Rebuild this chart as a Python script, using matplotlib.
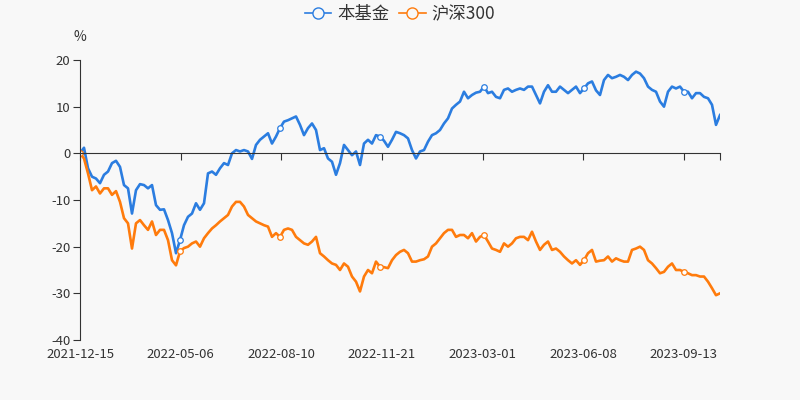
import matplotlib
matplotlib.use("Agg")
import matplotlib.pyplot as plt
from matplotlib.lines import Line2D
import numpy as np

plt.rcParams['font.family'] = ['Noto Sans CJK SC', 'DejaVu Sans']
plt.rcParams['axes.unicode_minus'] = False

# cumulative return (%), one sample every ~2.7 trading days
fund = [0, 1.2, -3.2, -5.0, -5.4, -6.4, -4.6, -3.9, -2.1, -1.6,
        -2.9, -6.8, -7.5, -12.9, -7.9, -6.6, -6.8, -7.5, -6.8, -11.1,
        -12.1, -12.0, -14.3, -17.1, -21.4, -18.6, -15.4, -13.6, -12.9, -10.7,
        -12.1, -10.7, -4.3, -3.9, -4.6, -3.2, -2.1, -2.5, 0, 0.7,
        0.4, 0.7, 0.4, -1.2, 1.8, 2.9, 3.6, 4.3, 2.1, 3.6,
        5.4, 6.8, 7.1, 7.5, 7.9, 6.1, 3.9, 5.4, 6.4, 5.0,
        0.7, 1.1, -1.1, -1.8, -4.6, -2.1, 1.8, 0.7, -0.4, 0.4,
        -2.5, 2.1, 2.9, 2.1, 3.9, 3.6, 2.7, 1.4, 2.9, 4.6,
        4.3, 3.9, 3.2, 0.7, -1.1, 0.4, 0.7, 2.5, 3.9, 4.3,
        5.0, 6.4, 7.5, 9.6, 10.4, 11.1, 13.2, 11.8, 12.5, 13.0,
        13.2, 14.3, 12.9, 13.2, 12.1, 11.8, 13.6, 13.9, 13.2, 13.6,
        13.9, 13.6, 14.3, 14.3, 12.5, 10.7, 13.2, 14.6, 13.2, 13.2,
        14.3, 13.6, 12.9, 13.6, 14.3, 12.9, 13.9, 15.0, 15.4, 13.5,
        12.5, 15.7, 16.8, 16.1, 16.4, 16.8, 16.4, 15.7, 16.8, 17.5,
        17.1, 16.1, 14.3, 13.6, 13.2, 11.1, 10.0, 13.2, 14.3, 13.9,
        14.3, 13.2, 13.2, 11.8, 12.9, 12.9, 12.1, 11.8, 10.4, 6.1,
        8.2]
hs300 = [0, -1.1, -4.3, -7.9, -7.1, -8.6, -7.5, -7.5, -8.9, -8.1,
         -10.4, -13.9, -15.0, -20.4, -15.0, -14.3, -15.4, -16.4, -14.6, -17.5,
         -16.4, -16.4, -18.6, -22.9, -24.0, -21.0, -20.3, -20.0, -19.3, -18.9,
         -20.0, -18.2, -17.1, -16.1, -15.4, -14.6, -13.9, -13.2, -11.4, -10.4,
         -10.4, -11.4, -13.2, -13.9, -14.6, -15.0, -15.4, -15.7, -17.9, -17.1,
         -17.9, -16.4, -16.1, -16.4, -17.9, -18.6, -19.3, -19.6, -18.9, -17.9,
         -21.4, -22.1, -22.9, -23.6, -23.9, -25.0, -23.6, -24.3, -26.4, -27.5,
         -29.6, -26.4, -25.0, -25.7, -23.2, -24.3, -24.4, -24.6, -22.9, -21.8,
         -21.1, -20.7, -21.4, -23.2, -23.2, -22.9, -22.7, -22.1, -20.0, -19.3,
         -18.2, -17.1, -16.4, -16.4, -17.9, -17.5, -17.5, -18.2, -17.1, -18.9,
         -17.9, -17.5, -18.9, -20.4, -20.7, -21.1, -19.3, -20.0, -19.3, -18.2,
         -17.9, -17.9, -18.6, -16.8, -18.9, -20.7, -19.6, -18.9, -20.7, -20.4,
         -21.1, -22.1, -22.9, -23.6, -22.9, -23.9, -22.9, -21.4, -20.7, -23.2,
         -23.0, -22.9, -22.1, -23.2, -22.5, -22.9, -23.2, -23.2, -20.7, -20.4,
         -20.0, -20.7, -22.9, -23.6, -24.6, -25.7, -25.4, -24.3, -23.6, -25.0,
         -25.0, -25.4, -25.7, -26.1, -26.1, -26.4, -26.4, -27.5, -28.9, -30.4,
         -30.0]

n_days = 427
tick_days = [0, 67, 134, 201, 268, 335, 402]
tick_labels = ['2021-12-15', '2022-05-06', '2022-08-10', '2022-11-21',
               '2023-03-01', '2023-06-08', '2023-09-13']
names = ['本基金', '沪深300']
colors = ['#2b7de0', '#ff7b0c']

x = np.linspace(0, n_days - 1, len(fund))
mark_idx = [int(round(d * (len(fund) - 1) / (n_days - 1))) for d in tick_days]

bg = '#f8f8f8'
fig = plt.figure(figsize=(8, 4), dpi=100, facecolor=bg)
ax = fig.add_axes([0.1, 0.15, 0.8, 0.7], facecolor=bg)

for vals, c in zip([fund, hs300], colors):
    ax.plot(x, vals, color=c, lw=1.9, solid_joinstyle='round',
            marker='o', markevery=mark_idx, ms=4, mfc='white', mec=c, mew=0.9)

ax.set_xlim(0, n_days - 1)
ax.set_ylim(-40, 20)
ax.set_yticks(np.arange(-40, 21, 10))

for s in ['top', 'right']:
    ax.spines[s].set_visible(False)
ax.spines['left'].set_color('#333333')
ax.spines['bottom'].set_position(('data', 0))
ax.spines['bottom'].set_color('#333333')
ax.set_xticks(tick_days + [n_days - 1])
ax.tick_params(axis='x', length=5, color='#333333', labelbottom=False)
ax.tick_params(axis='y', length=5, color='#333333', labelsize=9.5,
               labelcolor='#333333', pad=2)
for lab in ax.get_yticklabels():
    lab.set_verticalalignment('center_baseline')

sec = ax.secondary_xaxis(0.0)
sec.set_xticks(tick_days)
sec.set_xticklabels(tick_labels)
sec.spines['bottom'].set_visible(False)
sec.tick_params(length=0, labelsize=9.5, labelcolor='#333333', pad=6)

ax.text(0, 1.082, '%', transform=ax.transAxes, ha='center', va='center',
        fontsize=10, color='#333333')

handles = [Line2D([], [], color=c, lw=1.2, marker='o', ms=8, mfc=bg, mec=c,
                  mew=1.0) for c in colors]
fig.legend(handles, names, loc='center', bbox_to_anchor=(0.5, 1 - 14 / 400),
           ncol=2, frameon=False, fontsize=12.5, handlelength=1.5,
           handletextpad=0.35, columnspacing=0.6, labelcolor='#333333')

fig.savefig('out.png', dpi=100, facecolor=bg)
